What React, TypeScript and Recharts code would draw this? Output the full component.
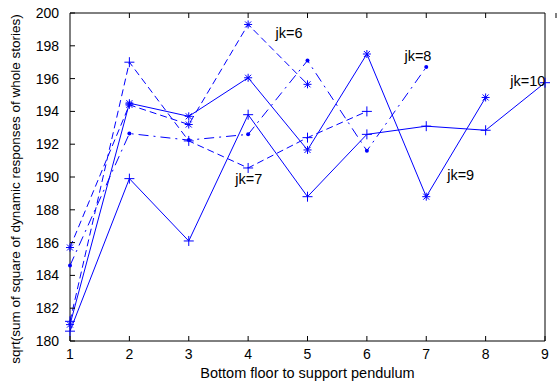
import { LineChart, Line, XAxis, YAxis, ReferenceDot } from 'recharts';

// x positions (floor index) and one array per jk curve
const floors = [1, 2, 3, 4, 5, 6, 7, 8, 9];
const jk6 = [185.7, 194.4, 193.2, 199.3, 195.65];
const jk7 = [181.2, 197.0, 192.2, 190.55, 192.4, 194.0];
const jk8 = [184.6, 192.65, 192.25, 192.6, 197.1, 191.6, 196.7];
const jk9 = [181.0, 194.5, 193.7, 196.05, 191.65, 197.5, 188.8, 194.85];
const jk10 = [180.6, 189.9, 186.1, 193.8, 188.8, 192.6, 193.1, 192.85, 195.75];

const xTicks = [1, 2, 3, 4, 5, 6, 7, 8, 9];
const yTicks = [180, 182, 184, 186, 188, 190, 192, 194, 196, 198, 200];

// curve labels, placed at data coordinates
const noteText = ['jk=6', 'jk=7', 'jk=8', 'jk=9', 'jk=10'];
const noteX = [4.69, 4.01, 6.86, 7.58, 8.71];
const noteY = [198.78, 189.88, 197.38, 190.12, 195.85];

const data = floors.map((f, i) => ({
  x: f,
  jk6: jk6[i],
  jk7: jk7[i],
  jk8: jk8[i],
  jk9: jk9[i],
  jk10: jk10[i],
}));

const BLUE = '#0000ff';
const FONT = '"Liberation Sans", Arial, Helvetica, sans-serif';

function Star(props: any) {
  const { cx, cy, index } = props;
  if (cx == null || cy == null || props.value == null) return <g key={index} />;
  const s = 4, d = 3;
  return (
    <g key={index} stroke={BLUE} strokeWidth={1}>
      <line x1={cx - s} y1={cy} x2={cx + s} y2={cy} />
      <line x1={cx} y1={cy - s} x2={cx} y2={cy + s} />
      <line x1={cx - d} y1={cy - d} x2={cx + d} y2={cy + d} />
      <line x1={cx - d} y1={cy + d} x2={cx + d} y2={cy - d} />
    </g>
  );
}

function Plus(props: any) {
  const { cx, cy, index } = props;
  if (cx == null || cy == null || props.value == null) return <g key={index} />;
  const s = 5;
  return (
    <g key={index} stroke={BLUE} strokeWidth={1}>
      <line x1={cx - s} y1={cy} x2={cx + s} y2={cy} />
      <line x1={cx} y1={cy - s} x2={cx} y2={cy + s} />
    </g>
  );
}

function Point(props: any) {
  const { cx, cy, index } = props;
  if (cx == null || cy == null || props.value == null) return <g key={index} />;
  return <circle key={index} cx={cx} cy={cy} r={2} fill={BLUE} stroke="none" />;
}

function BottomTick({ x, y, payload }: any) {
  return (
    <g>
      <line x1={x} y1={y} x2={x} y2={y - 5} stroke="#000" />
      <text x={x} y={y + 18} textAnchor="middle" fontSize={14} fontFamily={FONT} fill="#000">
        {payload.value}
      </text>
    </g>
  );
}

function TopTick({ x, y }: any) {
  return <line x1={x} y1={y} x2={x} y2={y + 5} stroke="#000" />;
}

function LeftTick({ x, y, payload }: any) {
  return (
    <g>
      <line x1={x} y1={y} x2={x + 5} y2={y} stroke="#000" />
      <text x={x - 11} y={y + 5} textAnchor="end" fontSize={14} fontFamily={FONT} fill="#000">
        {payload.value}
      </text>
    </g>
  );
}

function RightTick({ x, y }: any) {
  return <line x1={x} y1={y} x2={x - 5} y2={y} stroke="#000" />;
}

function YTitle({ viewBox }: any) {
  const cx = 15;
  const cy = viewBox.y + viewBox.height / 2 + 12;
  return (
    <text x={cx} y={cy} transform={`rotate(-90 ${cx} ${cy})`} textAnchor="middle" dominantBaseline="central"
      fontSize={13.5} fontFamily={FONT} fill="#000">
      sqrt(sum of square of dynamic responses of whole stories)
    </text>
  );
}

function XTitle({ viewBox }: any) {
  const cx = viewBox.x + viewBox.width / 2;
  return (
    <text x={cx} y={378} textAnchor="middle" fontSize={14.5} fontFamily={FONT} fill="#000">
      Bottom floor to support pendulum
    </text>
  );
}

export default function App() {
  return (
    <div style={{ position: 'absolute', left: 0, top: 0, width: 560, height: 385, background: '#fff' }}>
      <LineChart width={560} height={385} data={data} margin={{ top: 0, right: 0, bottom: 0, left: 0 }}>
        <XAxis
          dataKey="x" type="number" domain={[1, 9]} ticks={xTicks}
          height={44} tickSize={0} tickMargin={0} tickLine={false}
          axisLine={{ stroke: '#000' }} tick={<BottomTick />}
          label={<XTitle />}
        />
        <XAxis
          xAxisId="top" orientation="top" type="number" domain={[1, 9]} ticks={xTicks}
          height={13} tickSize={0} tickMargin={0} tickLine={false}
          axisLine={{ stroke: '#000' }} tick={<TopTick />}
        />
        <YAxis
          type="number" domain={[180, 200]} ticks={yTicks} width={70}
          tickSize={0} tickMargin={0} tickLine={false}
          axisLine={{ stroke: '#000' }} tick={<LeftTick />}
          label={<YTitle />}
        />
        <YAxis
          yAxisId="right" orientation="right" type="number" domain={[180, 200]} ticks={yTicks} width={15}
          tickSize={0} tickMargin={0} tickLine={false}
          axisLine={{ stroke: '#000' }} tick={<RightTick />}
        />
        <Line dataKey="jk6" stroke={BLUE} strokeWidth={1} strokeDasharray="7 4" dot={Star} activeDot={false} isAnimationActive={false} type="linear" />
        <Line dataKey="jk7" stroke={BLUE} strokeWidth={1} strokeDasharray="7 4" dot={Plus} activeDot={false} isAnimationActive={false} type="linear" />
        <Line dataKey="jk8" stroke={BLUE} strokeWidth={1} strokeDasharray="10 5 2 5" dot={Point} activeDot={false} isAnimationActive={false} type="linear" />
        <Line dataKey="jk9" stroke={BLUE} strokeWidth={1} dot={Star} activeDot={false} isAnimationActive={false} type="linear" />
        <Line dataKey="jk10" stroke={BLUE} strokeWidth={1} dot={Plus} activeDot={false} isAnimationActive={false} type="linear" />
        {noteText.map((t, i) => (
          <ReferenceDot
            key={t} x={noteX[i]} y={noteY[i]} r={0} fill="none" stroke="none" ifOverflow="visible"
            label={{ value: t, position: 'center', fontSize: 14.5, fontFamily: FONT, fill: '#000' }}
          />
        ))}
      </LineChart>
    </div>
  );
}
